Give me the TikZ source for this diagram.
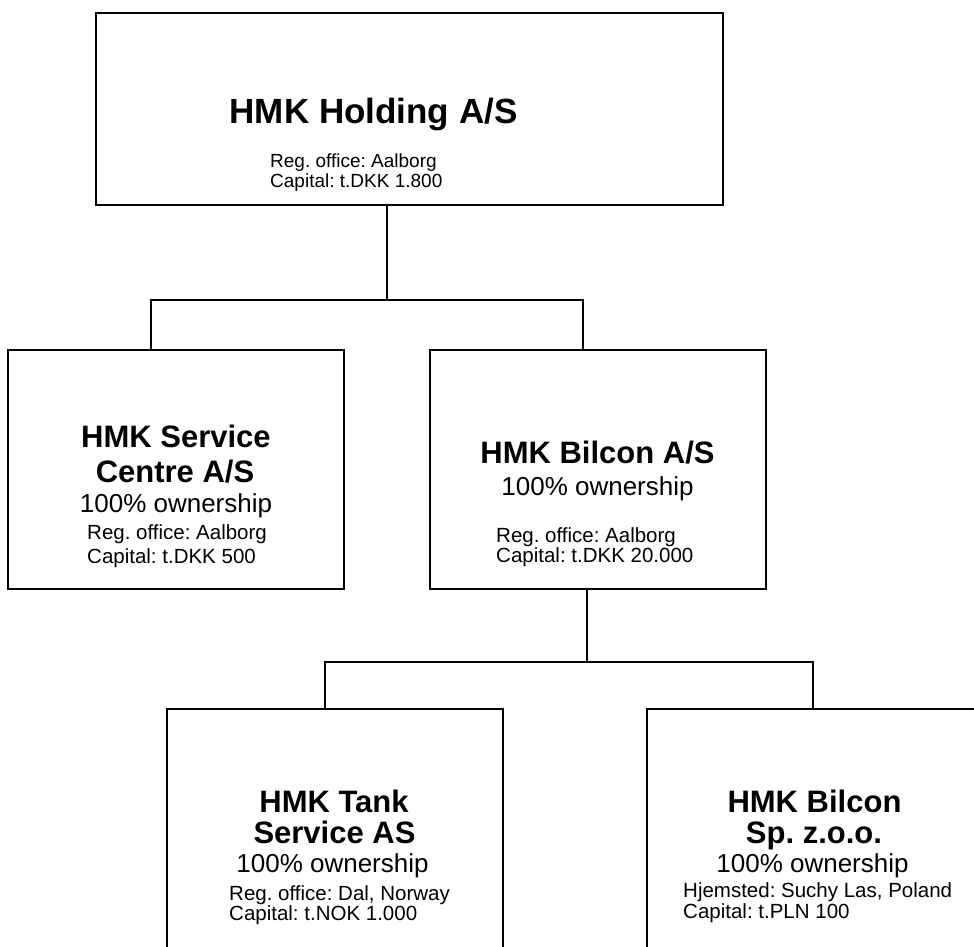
\documentclass[tikz,border=0pt]{standalone}
\usepackage{fontspec}
\setmainfont{Liberation Sans}
\usetikzlibrary{positioning}
\frenchspacing

\begin{document}
\begin{tikzpicture}[x=1pt,y=-1pt,
        box/.style={draw, line width=2pt, inner sep=0pt, minimum width=336pt, minimum height=239pt},
        wire/.style={line width=2pt},
        firm/.style={anchor=base, inner sep=0pt, font=\fontsize{31}{31}\selectfont\bfseries},
        share/.style={anchor=base, inner sep=0pt, font=\fontsize{26}{26}\selectfont},
        info/.style={anchor=base west, inner sep=0pt, font=\fontsize{20.5}{20.5}\selectfont}]
        \useasboundingbox (0,0) rectangle (974,947);
        \clip (0,0) rectangle (974,947);

        % the five companies
        \node[box, minimum width=627pt, minimum height=192pt] (holding) at (409.5,109) {};
        \node[box] (service) at (176,469.5) {};
        \node[box] (bilcon) at (598,469.5) {};
        \node[box] (tank) at (335,828.5) {};
        \node[box] (poland) at (815,828.5) {};

        % junctions of the tree
        \coordinate (top) at (387,300);
        \coordinate (topl) at (151,300);
        \coordinate (topr) at (583,300);
        \coordinate (mid) at (587,662);
        \coordinate (midl) at (325,662);
        \coordinate (midr) at (813,662);

        \draw[wire] (holding.south -| top) -- (top);
        \draw[wire] (service.north -| topl) |- (topr) -- (bilcon.north -| topr);
        \draw[wire] (bilcon.south -| mid) -- (mid);
        \draw[wire] (tank.north -| midl) |- (midr) -- (poland.north -| midr);

        % HMK Holding
        \node[firm, font=\fontsize{35}{35}\selectfont\bfseries] (holdname) at (373.5,124) {HMK Holding A/S};
        \node[info, font=\fontsize{19}{19}\selectfont] (holdreg) at (270,167) {Reg. office: Aalborg};
        \node[info, font=\fontsize{19}{19}\selectfont] (holdcap) at (270,187) {Capital: t.DKK 1.800};

        % HMK Service Centre
        \node[firm] (servname) at (176,447) {HMK Service};
        \node[firm] (servname2) at (175,482) {Centre A/S};
        \node[share] (servshare) at (176,512) {100\% ownership};
        \node[info] (servreg) at (87,539) {Reg. office: Aalborg};
        \node[info] (servcap) at (87,563) {Capital: t.DKK 500};

        % HMK Bilcon
        \node[firm] (bilname) at (597.5,463) {HMK Bilcon A/S};
        \node[share] (bilshare) at (597.5,495) {100\% ownership};
        \node[info] (bilreg) at (496,542) {Reg. office: Aalborg};
        \node[info] (bilcap) at (496,562) {Capital: t.DKK 20.000};

        % HMK Tank Service
        \node[firm] (tankname) at (334,812) {HMK Tank};
        \node[firm] (tankname2) at (334.5,843) {Service AS};
        \node[share] (tankshare) at (332.5,872) {100\% ownership};
        \node[info] (tankreg) at (229,900) {Reg. office: Dal, Norway};
        \node[info] (tankcap) at (229,920) {Capital: t.NOK 1.000};

        % HMK Bilcon Poland
        \node[firm] (polname) at (814.5,812) {HMK Bilcon};
        \node[firm] (polname2) at (814,843) {Sp. z.o.o.};
        \node[share] (polshare) at (812.5,872) {100\% ownership};
        \node[info] (polreg) at (683,897) {Hjemsted: Suchy Las, Poland};
        \node[info] (polcap) at (683,918) {Capital: t.PLN 100};
\end{tikzpicture}
\end{document}
